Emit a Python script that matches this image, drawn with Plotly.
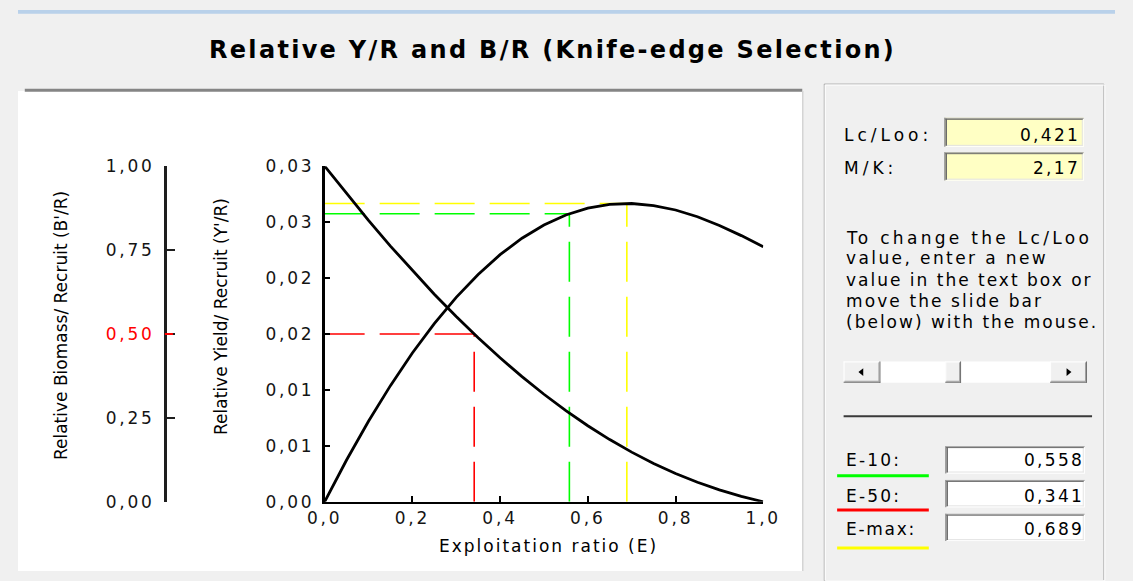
import plotly.graph_objects as go

W, H = 1133, 581
FONT = "DejaVu Sans"

# ---------------- data ----------------
E = [0.00, 0.05, 0.10, 0.15, 0.20, 0.25, 0.30, 0.35, 0.40, 0.45, 0.50,
     0.55, 0.60, 0.65, 0.70, 0.75, 0.80, 0.85, 0.90, 0.95, 1.00]
YR = [0.0, 0.00373, 0.00719, 0.01038, 0.01330, 0.01593, 0.01827, 0.02032, 0.02209, 0.02356, 0.02474,
      0.02563, 0.02625, 0.02658, 0.02666, 0.02648, 0.02608, 0.02548, 0.02470, 0.02379, 0.02280]
BR = [1.0, 0.9176, 0.8381, 0.7618, 0.6885, 0.6185, 0.5519, 0.4887, 0.4289, 0.3728, 0.3203,
      0.2715, 0.2265, 0.1853, 0.1479, 0.1143, 0.0844, 0.0582, 0.0355, 0.0162, 0.0]

E10, E50, EMAX = 0.558, 0.341, 0.689
YR_E10 = 0.02575
YR_EMAX = 0.02666
BR_E50 = 0.50

LC_LOO_TXT = "0,421"
MK_TXT = "2,17"
E10_TXT, E50_TXT, EMAX_TXT = "0,558", "0,341", "0,689"

E_TICKS = [0.0, 0.2, 0.4, 0.6, 0.8, 1.0]
E_TICKTEXT = ["0,0", "0,2", "0,4", "0,6", "0,8", "1,0"]
YR_TICKS = [0.0, 0.005, 0.010, 0.015, 0.020, 0.025, 0.030]
YR_TICKTEXT = ["0,00", "0,01", "0,01", "0,02", "0,02", "0,03", "0,03"]
BR_TICKS = [0.0, 0.25, 0.50, 0.75, 1.00]
BR_TICKTEXT = ["0,00", "0,25", "0,50", "0,75", "1,00"]

TITLE = "Relative Y/R and B/R (Knife-edge Selection)"
X_TITLE = "Exploitation ratio (E)"
YR_TITLE = "Relative Yield/ Recruit (Y'/R)"
BR_TITLE = "Relative Biomass/ Recruit (B'/R)"
PARAGRAPH = ["To change the Lc/Loo", "value, enter a new", "value in the text box or",
             "move the slide bar", "(below) with the mouse."]


# ---------------- helpers ----------------
def fx(x):
    return x / W


def fy(y):
    return 1.0 - y / H


def ls(text, spacing, color=None):
    st = "letter-spacing:%.2fpx" % spacing
    if color:
        st += ";color:" + color
    return '<span style="%s">%s</span>' % (st, text)


fig = go.Figure()

DASH = "40px,15px"


def dashed(x, y, color, yaxis="y"):
    fig.add_trace(go.Scatter(x=x, y=y, yaxis=yaxis, mode="lines",
                             line=dict(color=color, width=1.6, dash=DASH),
                             hoverinfo="skip", showlegend=False))


dashed([0, EMAX], [YR_EMAX, YR_EMAX], "#FFFF00")
dashed([EMAX, EMAX], [0, YR_EMAX], "#FFFF00")
dashed([0, E10], [YR_E10, YR_E10], "#00FF00")
dashed([E10, E10], [0, YR_E10], "#00FF00")

fig.add_trace(go.Scatter(x=E, y=YR, mode="lines", line=dict(color="#000000", width=2.8),
                         name="Y'/R", showlegend=False))

dashed([0, E50], [BR_E50, BR_E50], "#FF0000", "y2")
dashed([E50, E50], [0, BR_E50], "#FF0000", "y2")

fig.add_trace(go.Scatter(x=E, y=BR, yaxis="y2", mode="lines", line=dict(color="#000000", width=2.8),
                         name="B'/R", showlegend=False))

# ---------------- shapes (window decoration) ----------------
shapes = []


def rect(x0, y0, x1, y1, fill=None, line=None, lw=0, layer="below"):
    shapes.append(dict(type="rect", xref="paper", yref="paper",
                       x0=fx(x0), x1=fx(x1), y0=fy(y1), y1=fy(y0),
                       fillcolor=fill or "rgba(0,0,0,0)",
                       line=dict(color=line or "rgba(0,0,0,0)", width=lw), layer=layer))


def hline(x0, x1, y, color, w, layer="below"):
    shapes.append(dict(type="line", xref="paper", yref="paper",
                       x0=fx(x0), x1=fx(x1), y0=fy(y), y1=fy(y),
                       line=dict(color=color, width=w), layer=layer))


def vline(x, y0, y1, color, w, layer="below"):
    shapes.append(dict(type="line", xref="paper", yref="paper",
                       x0=fx(x), x1=fx(x), y0=fy(y0), y1=fy(y1),
                       line=dict(color=color, width=w), layer=layer))


def textbox(x0, y0, x1, y1, fill):
    rect(x0, y0, x1, y1, fill=fill)
    hline(x0, x1, y1 - 0.5, "#FFFFFF", 1)
    vline(x1 - 0.5, y0, y1, "#FFFFFF", 1)
    hline(x0 + 1, x1 - 1, y1 - 1.5, "#E3E3E3", 1)
    vline(x1 - 1.5, y0 + 1, y1 - 1, "#E3E3E3", 1)
    hline(x0, x1, y0 + 0.5, "#A0A0A0", 1)
    vline(x0 + 0.5, y0, y1, "#A0A0A0", 1.5)
    hline(x0 + 1, x1 - 1, y0 + 1.5, "#696969", 1)
    vline(x0 + 2, y0 + 1, y1 - 1, "#696969", 1.5)


def button(x0, y0, x1, y1):
    rect(x0, y0, x1, y1, fill="#F0F0F0")
    hline(x0, x1, y0 + 0.5, "#FFFFFF", 1)
    vline(x0 + 0.5, y0, y1, "#FFFFFF", 1)
    hline(x0, x1, y1 - 0.5, "#696969", 1)
    vline(x1 - 0.5, y0, y1, "#696969", 1)
    hline(x0 + 1, x1 - 1, y1 - 1.5, "#A0A0A0", 1)
    vline(x1 - 1.5, y0 + 1, y1 - 1, "#A0A0A0", 1)


# top window strip
rect(0, 0, W, 4, fill="#B9D1EA")
# white chart panel
rect(0, 84, 810, H, fill="#FFFFFF")
hline(7, 810, 83, "#858585", 3)
vline(810.5, 84, H, "#D4D4D4", 1.5)
# group box on the right
rect(832.7, 76.7, 1121.5, H + 10, line="#ABABAB", lw=1)
rect(833.7, 77.7, 1122.5, H + 10, line="#FFFFFF", lw=1)
# parameter boxes
textbox(956.7, 111.7, 1100.7, 141.7, "#FFFFC4")
textbox(956.7, 147.3, 1100.7, 176.7, "#FFFFC4")
# scrollbar
rect(852.7, 364, 1104, 386, fill="#FFFFFF")
button(852.7, 364, 890.7, 386)
button(957.7, 364, 974, 386)
button(1066, 364, 1104, 386)
shapes.append(dict(type="path", xref="paper", yref="paper", layer="below",
                   path="M %f,%f L %f,%f L %f,%f Z" % (fx(868), fy(375), fx(873), fy(371), fx(873), fy(379)),
                   fillcolor="#000000", line=dict(width=0)))
shapes.append(dict(type="path", xref="paper", yref="paper", layer="below",
                   path="M %f,%f L %f,%f L %f,%f Z" % (fx(1088), fy(375), fx(1083), fy(371), fx(1083), fy(379)),
                   fillcolor="#000000", line=dict(width=0)))
# separator
hline(852.7, 1109.3, 420.7, "#3A3A3A", 2)
# result boxes
textbox(957.7, 451.7, 1101.7, 480, "#FFFFFF")
textbox(957.7, 486.7, 1101.7, 515, "#FFFFFF")
textbox(957.7, 521.7, 1101.7, 550, "#FFFFFF")
# coloured underlines
hline(846, 940.7, 482.3, "#00FF00", 3)
hline(846, 940.7, 517.7, "#FF0000", 3)
hline(846, 940.7, 557.3, "#FFFF00", 3)
# red tick on the B'/R axis at E-50 level
shapes.append(dict(type="line", xref="paper", yref="y2", x0=fx(151.7), x1=fx(160), y0=BR_E50, y1=BR_E50,
                   line=dict(color="#FF0000", width=2), layer="above"))

# ---------------- annotations (text) ----------------


def note(text, x, y, size=17, xanchor="left", yanchor="middle", angle=0, color="#000000"):
    fig.add_annotation(text=text, x=fx(x), y=fy(y), xref="paper", yref="paper", showarrow=False,
                       xanchor=xanchor, yanchor=yanchor, textangle=angle, borderpad=0, borderwidth=0,
                       font=dict(family=FONT, size=size, color=color))


note("<b>" + ls(TITLE, 2.3) + "</b>", 552, 41, 24, "center")
note(BR_TITLE, 45, 326.7, 17, "center", angle=-90)
note(YR_TITLE, 209, 317.5, 17, "center", angle=-90)
note(ls(X_TITLE, 2.0), 548, 555, 17, "center")

note(ls("Lc/Loo:", 4.0), 853, 129)
note(ls("M/K:", 4.0), 853, 164)
note(ls(LC_LOO_TXT, 2.3), 1097.3, 129, xanchor="right")
note(ls(MK_TXT, 2.3), 1097.3, 164, xanchor="right")

para_ls = [3.3, 2.4, 2.0, 2.1, 2.0]
para_y = [235.7, 256.7, 279.3, 301.0, 323.3]
for line_txt, sp, yy in zip(PARAGRAPH, para_ls, para_y):
    note(ls(line_txt, sp), 855, yy)

note(ls("E-10:", 2.2), 855, 466)
note(ls("E-50:", 2.2), 855, 503)
note(ls("E-max:", 1.7), 855, 537.5)
note(ls(E10_TXT, 2.3), 1100.6, 466, xanchor="right")
note(ls(E50_TXT, 2.3), 1100.6, 503, xanchor="right")
note(ls(EMAX_TXT, 2.3), 1100.6, 537.5, xanchor="right")

# ---------------- layout / axes ----------------
tick_font = dict(family=FONT, size=17, color="#141414")

fig.update_layout(
    width=W, height=H,
    margin=dict(l=0, r=0, t=0, b=0, pad=0),
    paper_bgcolor="#F0F0F0", plot_bgcolor="#FFFFFF",
    font=dict(family=FONT, color="#000000"),
    showlegend=False,
    hovermode=False,
    shapes=shapes,
    xaxis=dict(domain=[fx(316.7), fx(769.7)], range=[0, 1], anchor="y",
               showline=True, linecolor="#000000", linewidth=2,
               ticks="inside", ticklen=6, tickwidth=2, tickcolor="#000000",
               tickmode="array", tickvals=E_TICKS, ticktext=[ls(t, 2.8) for t in E_TICKTEXT],
               tickfont=tick_font, showgrid=False, zeroline=False, fixedrange=True,
               ticklabelstandoff=0),
    yaxis=dict(domain=[fy(509.3), fy(161.7)], range=[0, 0.03], anchor="x",
               showline=True, linecolor="#000000", linewidth=2.5,
               ticks="inside", ticklen=6, tickwidth=2, tickcolor="#000000",
               tickmode="array", tickvals=YR_TICKS, ticktext=[ls(t, 2.8) for t in YR_TICKTEXT],
               tickfont=tick_font, showgrid=False, zeroline=False, fixedrange=True,
               ticklabelstandoff=4),
    yaxis2=dict(overlaying="y", anchor="free", position=fx(151.7), side="left", range=[0, 1],
                showline=True, linecolor="#1E1E1E", linewidth=2.5,
                ticks="inside", ticklen=8, tickwidth=2, tickcolor="#1E1E1E",
                tickmode="array", tickvals=BR_TICKS,
                ticktext=[ls(t, 2.8, "#FF0000" if t == "0,50" else None) for t in BR_TICKTEXT],
                tickfont=tick_font, showgrid=False, zeroline=False, fixedrange=True,
                ticklabelstandoff=6),
)

fig.write_html("out.html")
